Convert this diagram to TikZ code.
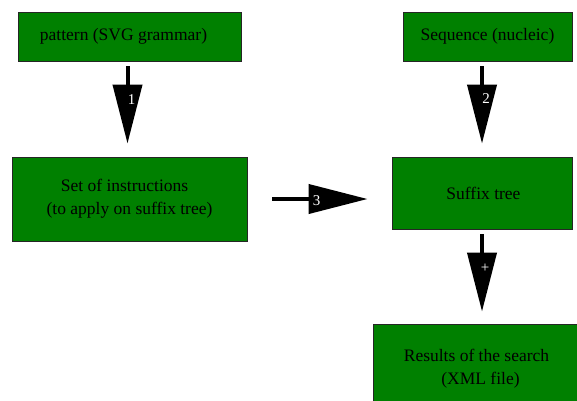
\documentclass[tikz,border=0pt]{standalone}
\usepackage{fontspec}
\setmainfont{Liberation Serif}
\usetikzlibrary{arrows.meta}
\definecolor{boxgreen}{RGB}{0,128,0}
\tikzset{
  stage/.style={draw=black!85, line width=0.9pt, fill=boxgreen, inner sep=0pt,
    font=\fontsize{17.5}{23}\selectfont, align=center},
  flow/.style={line width=4pt, draw=black,
    -{Triangle[length=59pt, width=29pt]}},
  tag/.style={text=white, font=\fontsize{15}{15}\selectfont, inner sep=0pt}
}
\begin{document}
\begin{tikzpicture}[x=1pt, y=-1pt]
  \useasboundingbox (0,0) rectangle (577,400);
  \clip (0,0) rectangle (577,400);
  % processing stages
  \node[stage, minimum width=223pt, minimum height=49pt] (pat) at (129.5,36.5)
    {\hspace*{-12pt}pattern (SVG grammar)};
  \node[stage, minimum width=235pt, minimum height=84pt] (ins) at (129.5,199)
    {\hspace*{-10pt}Set of instructions\\(to apply on suffix tree)};
  \node[stage, minimum width=169pt, minimum height=49pt] (seq) at (487.5,36.5)
    {Sequence (nucleic)};
  \node[stage, minimum width=180pt, minimum height=72pt] (tree) at (482,193)
    {\hspace*{3pt}Suffix tree};
  \node[stage, minimum width=207pt, minimum height=90pt] (res) at (476.5,369)
    {Results of the search\\\hspace*{8pt}(XML file)};
  % numbered steps
  \draw[flow, shorten <=5pt, shorten >=13pt] ([xshift=-2pt]pat.south) -- ([xshift=-2pt]pat.south |- ins.north)
    node[tag, pos=0.4, xshift=4pt] {1};
  \draw[flow, shorten <=5pt, shorten >=13pt] (seq.south -| tree.north) -- (tree.north)
    node[tag, pos=0.39, xshift=4pt] {2};
  \draw[flow, shorten <=25pt, shorten >=24pt] (ins.east) -- (tree.west |- ins.east)
    node[tag, pos=0.48, yshift=-2pt] {3};
  \draw[flow, shorten <=5pt, shorten >=12pt] (tree.south) -- (tree.south |- res.north)
    node[tag, pos=0.41, xshift=3pt] {+};
\end{tikzpicture}
\end{document}
